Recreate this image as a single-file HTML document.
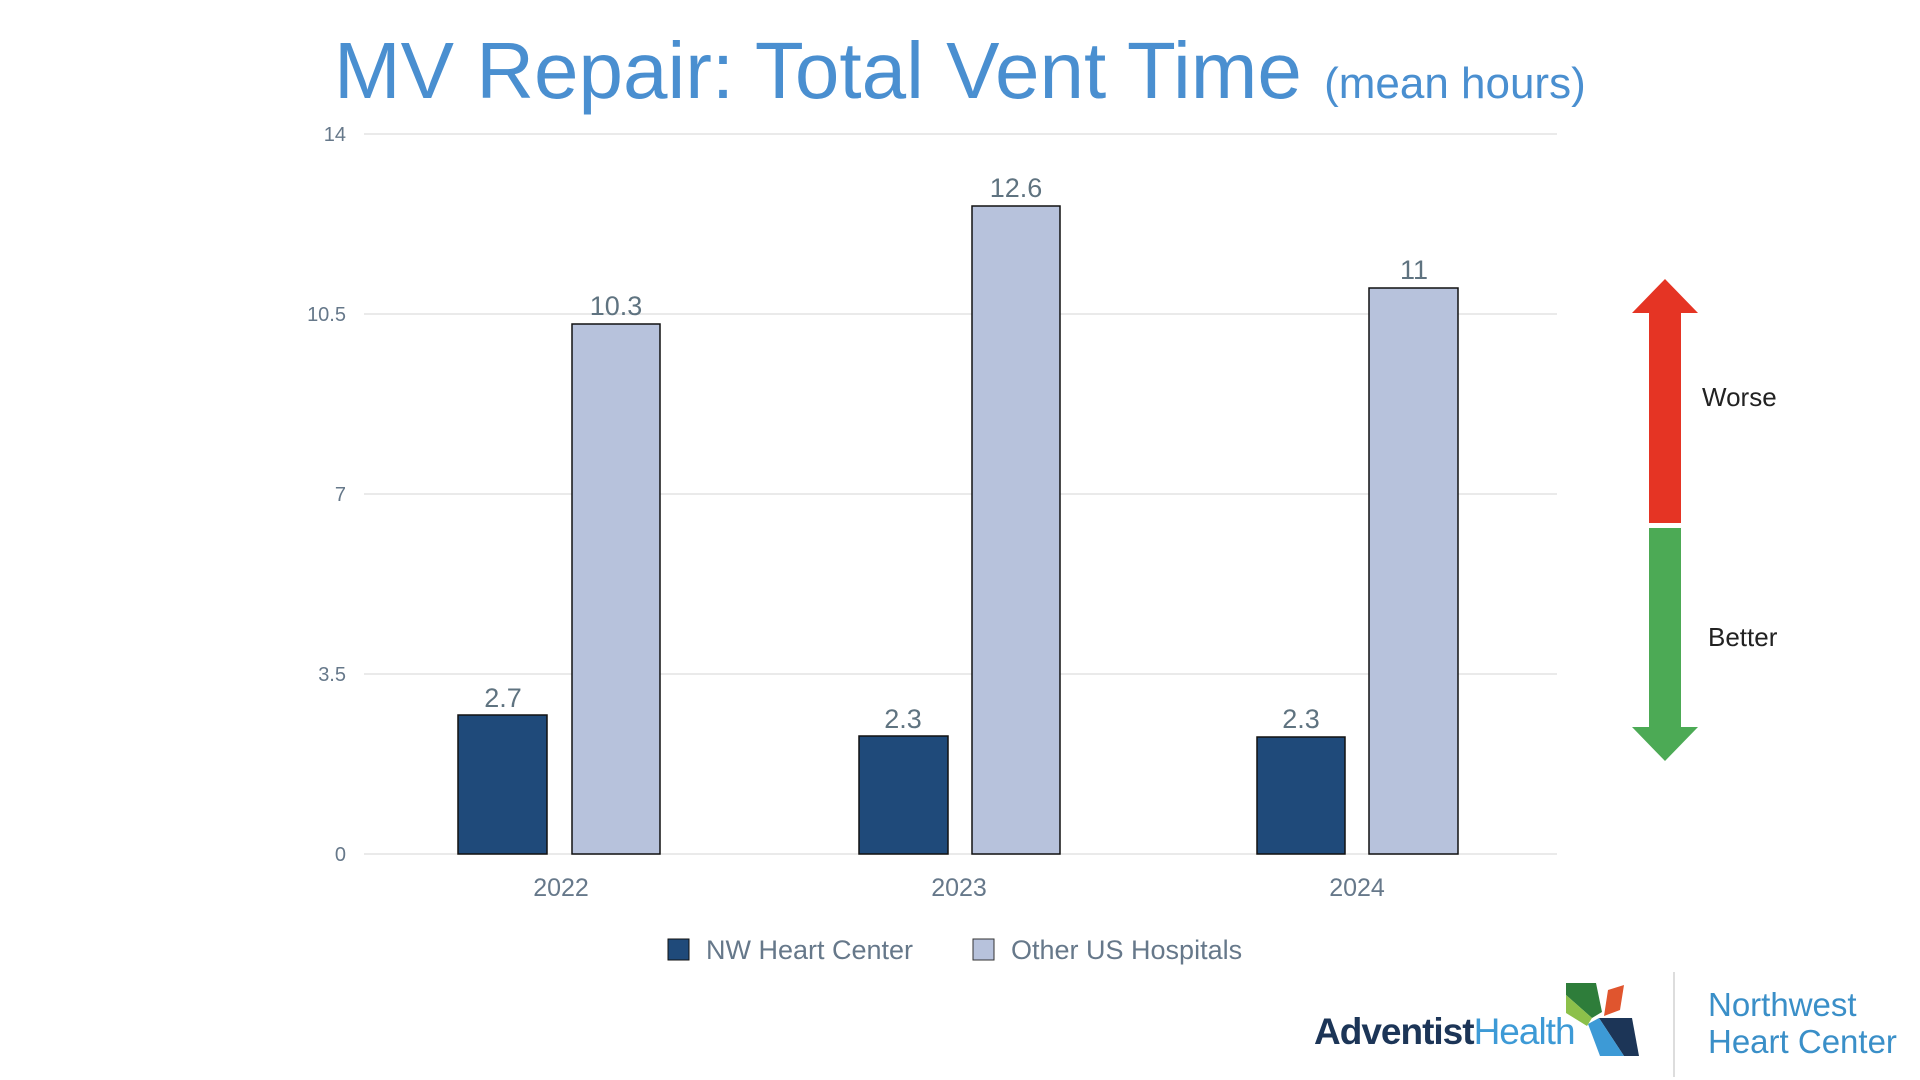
<!DOCTYPE html>
<html><head><meta charset="utf-8"><style>
html,body{margin:0;padding:0;background:#fff;}
body{width:1920px;height:1080px;position:relative;overflow:hidden;font-family:"Liberation Sans",sans-serif;}
</style></head><body>
<svg width="1920" height="1080" xmlns="http://www.w3.org/2000/svg" style="position:absolute;left:0;top:0" font-family="Liberation Sans, sans-serif">
<text x="334" y="98" font-size="80" fill="#4a8fd0">MV Repair: Total Vent Time <tspan font-size="44">(mean hours)</tspan></text>
<g stroke="#e3e3e3" stroke-width="1.5">
<line x1="364" y1="134" x2="1557" y2="134"/>
<line x1="364" y1="314" x2="1557" y2="314"/>
<line x1="364" y1="494" x2="1557" y2="494"/>
<line x1="364" y1="674" x2="1557" y2="674"/>
<line x1="364" y1="854" x2="1557" y2="854"/>
</g>
<g font-size="20" fill="#66788a" text-anchor="end">
<text x="346" y="141">14</text><text x="346" y="321">10.5</text><text x="346" y="501">7</text><text x="346" y="681">3.5</text><text x="346" y="861">0</text>
</g>
<g stroke="#111" stroke-width="1.5">
<rect x="458" y="715" width="89" height="139" fill="#1f4a7a"/>
<rect x="572" y="324" width="88" height="530" fill="#b7c2dc"/>
<rect x="859" y="736" width="89" height="118" fill="#1f4a7a"/>
<rect x="972" y="206" width="88" height="648" fill="#b7c2dc"/>
<rect x="1257" y="737" width="88" height="117" fill="#1f4a7a"/>
<rect x="1369" y="288" width="89" height="566" fill="#b7c2dc"/>
</g>
<g font-size="27" fill="#5f7380" text-anchor="middle">
<text x="503" y="707">2.7</text><text x="616" y="315">10.3</text>
<text x="903" y="728">2.3</text><text x="1016" y="197">12.6</text>
<text x="1301" y="728">2.3</text><text x="1414" y="279">11</text>
</g>
<g font-size="25" fill="#66788a" text-anchor="middle">
<text x="561" y="896">2022</text><text x="959" y="896">2023</text><text x="1357" y="896">2024</text>
</g>
<rect x="668" y="939" width="21" height="21" fill="#1f4a7a" stroke="#111" stroke-width="1"/>
<text x="706" y="959" font-size="27" fill="#66788a">NW Heart Center</text>
<rect x="973" y="939" width="21" height="21" fill="#b7c2dc" stroke="#333" stroke-width="1"/>
<text x="1011" y="959" font-size="27" fill="#66788a">Other US Hospitals</text>
<polygon points="1665,279 1698,313 1681,313 1681,523 1649,523 1649,313 1632,313" fill="#e53424"/>
<polygon points="1649,528 1681,528 1681,727 1698,727 1665,761 1632,727 1649,727" fill="#4caa55"/>
<text x="1702" y="406" font-size="26" fill="#222">Worse</text>
<text x="1708" y="646" font-size="26" fill="#222">Better</text>
<text x="1314" y="1044" font-size="37" font-weight="bold" fill="#1c3557" letter-spacing="-1">Adventist<tspan fill="#3d9ad6" font-weight="normal">Health</tspan></text>
<polygon points="1566,983 1596,983 1602,1012 1592,1018 1566,995" fill="#2e7d3a"/>
<polygon points="1566,995 1592,1018 1587,1026 1566,1013" fill="#8cc04a"/>
<polygon points="1608,990 1624,985 1620,1010 1604,1016" fill="#e0552e"/>
<polygon points="1599,1018 1632,1018 1639,1056 1624,1056" fill="#1c3557"/>
<polygon points="1588,1024 1599,1018 1624,1056 1600,1056" fill="#3d9ad6"/>
<line x1="1674" y1="972" x2="1674" y2="1077" stroke="#ddd" stroke-width="2"/>
<text x="1708" y="1016" font-size="33" fill="#3a8fc8">Northwest</text>
<text x="1708" y="1053" font-size="33" fill="#3a8fc8">Heart Center</text>
</svg>
</body></html>
